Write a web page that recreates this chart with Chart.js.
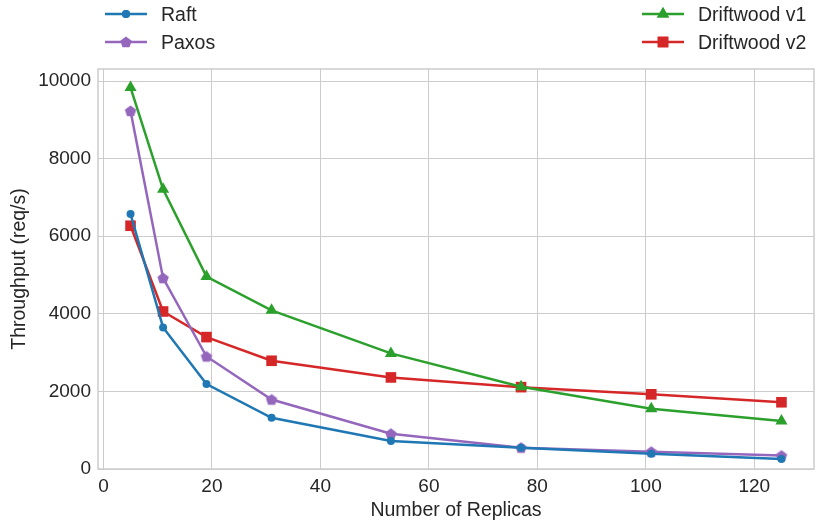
<!DOCTYPE html>
<html lang="en">
<head>
<meta charset="UTF-8">
<title>Throughput vs Number of Replicas</title>
<script src="https://cdn.jsdelivr.net/npm/chart.js@4/dist/chart.umd.min.js"></script>
<style>
  body { margin: 0; background: #fff; }
  #wrap { position: relative; width: 817px; height: 524px; }
  .legend-item {
    position: absolute; display: flex; align-items: center; height: 22px;
    font: 19.5px "Liberation Sans", Arial, sans-serif; color: #262626; white-space: nowrap;
  }
  .legend-item canvas { margin-right: 14px; }
</style>
</head>
<body>
<div id="wrap">
  <canvas id="myChart" width="817" height="524"></canvas>
</div>
<script>
// data
const replicas = [5, 11, 19, 31, 53, 77, 101, 125]
const raft = [6570, 3650, 2190, 1320, 720, 550, 390, 260]
const paxos = [9230, 4920, 2900, 1790, 910, 550, 445, 345]
const driftwoodV1 = [9830, 7210, 4960, 4090, 2980, 2120, 1555, 1240]
const driftwoodV2 = [6270, 4060, 3400, 2790, 2360, 2110, 1925, 1720]
const xTicks = [0, 20, 40, 60, 80, 100, 120]
const yTicks = [0, 2000, 4000, 6000, 8000, 10000]

const FONT = '"Liberation Sans", Arial, sans-serif'
const TEXT = '#262626'
const GRID = '#cccccc'

function pentagon(color, r) {
  const s = Math.ceil(r * 2) + 2
  const c = document.createElement('canvas')
  c.width = s; c.height = s
  const g = c.getContext('2d')
  g.fillStyle = color
  g.beginPath()
  for (let i = 0; i < 5; i++) {
    const a = -Math.PI / 2 + i * 2 * Math.PI / 5
    g.lineTo(s / 2 + r * Math.cos(a), s / 2 + r * Math.sin(a) + 0.5)
  }
  g.closePath()
  g.fill()
  return c
}

const series = [
  { label: 'Raft', data: raft, color: '#1f77b4', style: 'circle', radius: 4 },
  { label: 'Paxos', data: paxos, color: '#9467bd', style: pentagon('#9467bd', 6), radius: 5 },
  { label: 'Driftwood v1', data: driftwoodV1, color: '#2ca02c', style: 'triangle', radius: 7 },
  { label: 'Driftwood v2', data: driftwoodV2, color: '#d62728', style: 'rect', radius: 7.5 }
]

const data = {
  datasets: series.map(s => ({
    label: s.label,
    data: replicas.map((x, i) => ({ x: x, y: s.data[i] })),
    borderColor: s.color,
    backgroundColor: s.color,
    borderWidth: 2.5,
    pointStyle: s.style,
    pointRadius: s.radius,
    pointBorderWidth: 0,
    pointBackgroundColor: s.color,
    tension: 0
  }))
}

// box around the plot area, like the axes spines
const frame = {
  id: 'frame',
  beforeDatasetsDraw(chart) {
    const { ctx, chartArea: a } = chart
    ctx.save()
    ctx.strokeStyle = GRID
    ctx.lineWidth = 1.5
    ctx.strokeRect(a.left, a.top, a.right - a.left, a.bottom - a.top)
    ctx.restore()
  }
}

const config = {
  type: 'line',
  data,
  options: {
    responsive: false,
    animation: false,
    layout: { autoPadding: false, padding: { top: 69, right: 3, left: 0, bottom: 0 } },
    plugins: { legend: { display: false }, tooltip: { enabled: false } },
    scales: {
      x: {
        type: 'linear',
        min: -1,
        max: 131,
        afterBuildTicks: s => { s.ticks = xTicks.map(v => ({ value: v })) },
        afterFit: s => { s.height = 55; s.paddingLeft = 0; s.paddingRight = 0 },
        grid: { color: GRID, lineWidth: 1, drawTicks: false },
        border: { display: false },
        ticks: { color: TEXT, font: { size: 19, family: FONT }, padding: 6, callback: v => String(v) },
        title: { display: true, text: 'Number of Replicas', color: TEXT,
                 font: { size: 19.5, family: FONT }, padding: { top: 0, bottom: 2 } }
      },
      y: {
        min: 0,
        max: 10310,
        afterBuildTicks: s => { s.ticks = yTicks.map(v => ({ value: v })) },
        afterFit: s => { s.width = 98 },
        grid: { color: GRID, lineWidth: 1, drawTicks: false },
        border: { display: false },
        ticks: { color: TEXT, font: { size: 19, family: FONT }, padding: 7, callback: v => String(v) },
        title: { display: true, text: 'Throughput (req/s)', color: TEXT,
                 font: { size: 19.5, family: FONT }, padding: { top: 8, bottom: 0 } }
      }
    }
  },
  plugins: [frame]
}

var myChart = new Chart(document.getElementById('myChart'), config)

// legend in two columns above the plot
const legendPos = [
  { left: 105, top: 3 }, { left: 105, top: 31 },
  { left: 642, top: 3 }, { left: 642, top: 31 }
]
series.forEach((s, i) => {
  const item = document.createElement('div')
  item.className = 'legend-item'
  item.style.left = legendPos[i].left + 'px'
  item.style.top = legendPos[i].top + 'px'
  const sw = document.createElement('canvas')
  sw.width = 42; sw.height = 16
  const g = sw.getContext('2d')
  g.strokeStyle = s.color
  g.lineWidth = 2.5
  g.beginPath(); g.moveTo(0, 8); g.lineTo(42, 8); g.stroke()
  g.fillStyle = s.color
  if (typeof s.style !== 'string') {
    g.drawImage(s.style, 21 - s.style.width / 2, 8 - s.style.height / 2)
  } else {
    Chart.helpers.drawPoint(g, { pointStyle: s.style, radius: s.radius, borderWidth: 0, rotation: 0 }, 21, 8)
    g.fill()
  }
  item.appendChild(sw)
  const txt = document.createElement('span')
  txt.textContent = s.label
  item.appendChild(txt)
  document.getElementById('wrap').appendChild(item)
})
</script>
</body>
</html>
